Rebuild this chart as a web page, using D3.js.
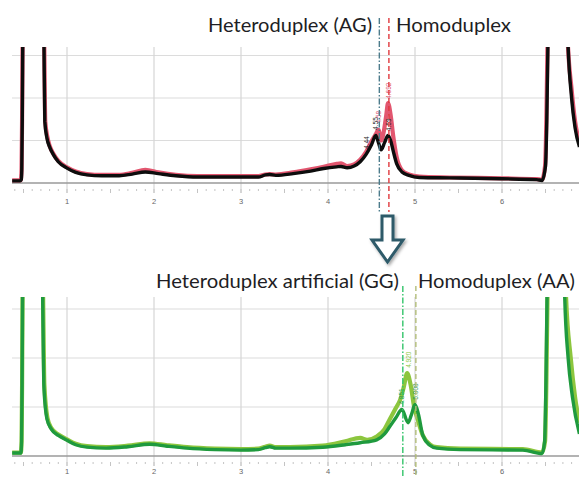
<!DOCTYPE html>
<html>
<head>
<meta charset="utf-8">
<script src="https://cdn.jsdelivr.net/npm/d3@7"></script>
<style>
  html, body { margin: 0; padding: 0; background: #fff; }
  svg { display: block; }
</style>
</head>
<body>
<svg id="chart" width="579" height="477"></svg>
<script>
// Retention-time traces (minutes vs. signal, one grid step = 1 unit)
const topRed = [[0.37,0.06],[0.46,0.06],[0.47,0.07],[0.478,0.35],[0.484,1.6],[0.49,3.5],[0.61,25],[0.738,3.4],[0.75,1.45],[0.775,1.08],[0.80,0.88],[0.84,0.7],[0.9,0.52],[1.0,0.37],[1.1,0.27],[1.23,0.21],[1.4,0.19],[1.6,0.19],[1.75,0.24],[1.9,0.31],[2.05,0.25],[2.25,0.19],[2.5,0.16],[2.9,0.16],[3.2,0.16],[3.28,0.2],[3.33,0.21],[3.4,0.2],[3.6,0.25],[3.8,0.32],[3.95,0.38],[4.1,0.45],[4.15,0.46],[4.22,0.4],[4.3,0.44],[4.37,0.55],[4.44,0.74],[4.5,0.98],[4.55,1.15],[4.58,1.25],[4.61,1.0],[4.64,1.2],[4.67,1.6],[4.69,1.88],[4.72,1.6],[4.75,1.1],[4.79,0.6],[4.85,0.3],[4.93,0.2],[5.05,0.15],[5.4,0.13],[6.0,0.11],[6.4,0.09],[6.46,0.08],[6.495,0.4],[6.51,1.5],[6.525,3.6],[6.64,25],[6.75,3.6],[6.80,2.2],[6.84,1.45],[6.89,0.95]];
const topBlack = [[0.37,0.05],[0.46,0.05],[0.475,0.08],[0.48,0.3],[0.486,1.5],[0.492,3.5],[0.61,25],[0.735,3.4],[0.745,1.45],[0.77,1.05],[0.80,0.85],[0.84,0.68],[0.9,0.5],[1.0,0.35],[1.1,0.25],[1.23,0.19],[1.4,0.17],[1.6,0.17],[1.75,0.21],[1.9,0.26],[2.05,0.22],[2.25,0.17],[2.5,0.14],[2.9,0.14],[3.2,0.14],[3.28,0.19],[3.33,0.2],[3.4,0.18],[3.6,0.22],[3.8,0.28],[3.95,0.34],[4.1,0.38],[4.15,0.39],[4.22,0.36],[4.3,0.4],[4.37,0.5],[4.44,0.68],[4.5,0.9],[4.55,1.12],[4.58,0.95],[4.61,0.78],[4.65,0.95],[4.69,1.12],[4.72,1.0],[4.75,0.75],[4.79,0.45],[4.85,0.26],[4.93,0.18],[5.05,0.13],[5.4,0.12],[6.0,0.1],[6.4,0.08],[6.46,0.06],[6.5,0.4],[6.515,1.5],[6.53,3.6],[6.64,25],[6.755,3.5],[6.80,2.0],[6.84,1.3],[6.89,0.85]];
const bottomLight = [[0.37,0.07],[0.47,0.07],[0.478,0.3],[0.484,1.5],[0.49,3.5],[0.6,25],[0.725,3.3],[0.74,1.45],[0.775,0.78],[0.82,0.57],[0.9,0.44],[1.0,0.34],[1.1,0.25],[1.23,0.2],[1.45,0.18],[1.7,0.21],[1.95,0.26],[2.15,0.22],[2.38,0.18],[2.7,0.15],[3.0,0.14],[3.2,0.15],[3.28,0.19],[3.33,0.21],[3.4,0.18],[3.56,0.18],[3.94,0.21],[4.2,0.3],[4.37,0.37],[4.45,0.33],[4.56,0.4],[4.65,0.55],[4.71,0.75],[4.78,0.98],[4.83,1.15],[4.87,1.4],[4.91,1.69],[4.95,1.45],[4.99,1.0],[5.03,0.75],[5.09,0.42],[5.17,0.24],[5.25,0.18],[5.52,0.15],[6.24,0.14],[6.46,0.07],[6.495,0.3],[6.51,1.5],[6.525,3.6],[6.63,25],[6.735,3.3],[6.79,2.0],[6.84,1.2],[6.89,0.68]];
const bottomDark = [[0.37,0.06],[0.47,0.06],[0.478,0.3],[0.484,1.5],[0.49,3.5],[0.6,25],[0.72,3.3],[0.735,1.4],[0.77,0.75],[0.82,0.55],[0.9,0.42],[1.0,0.32],[1.1,0.23],[1.23,0.18],[1.45,0.16],[1.7,0.19],[1.95,0.24],[2.15,0.2],[2.38,0.16],[2.7,0.13],[3.0,0.12],[3.2,0.13],[3.28,0.17],[3.33,0.19],[3.4,0.16],[3.56,0.16],[3.94,0.18],[4.2,0.23],[4.37,0.27],[4.56,0.33],[4.65,0.45],[4.71,0.6],[4.78,0.78],[4.85,0.95],[4.92,0.68],[4.96,0.85],[5.0,1.05],[5.04,0.85],[5.09,0.42],[5.17,0.22],[5.25,0.16],[5.52,0.13],[6.24,0.12],[6.46,0.05],[6.49,0.3],[6.505,1.5],[6.52,3.6],[6.62,25],[6.72,3.3],[6.76,2.0],[6.81,1.2],[6.89,0.45]];

// Peak apex labels: [retention time, label anchor height, text]
const topBlackPeaks = [[4.44, 0.8, "4.44"], [4.55, 1.25, "4.55"], [4.69, 1.22, "4.69"]];
const topRedPeaks = [[4.58, 1.4, "4.58"], [4.69, 1.98, "4.692"]];
const bottomDarkPeaks = [[4.85, 1.05, "4.851"], [5.008, 1.15, "5.008"]];
const bottomLightPeaks = [[4.92, 1.8, "4.920"]];

// Marker positions
const topMarkers = [4.59, 4.70];
const bottomMarkers = [4.86, 5.01];

const xTicks = [1, 2, 3, 4, 5, 6];
const yGrid = [1, 2, 3];

const titlesTop = ["Heteroduplex (AG)", "Homoduplex"];
const titlesBottom = ["Heteroduplex artificial (GG)", "Homoduplex (AA)"];

const svg = d3.select("#chart");

const defs = svg.append("defs");
const shadow = defs.append("filter").attr("id", "shadow").attr("x", "-30%").attr("y", "-30%").attr("width", "160%").attr("height", "160%");
shadow.append("feDropShadow").attr("dx", 1.5).attr("dy", 2).attr("stdDeviation", 1.5).attr("flood-color", "#000").attr("flood-opacity", 0.35);

const x = d3.scaleLinear().domain([1, 6]).range([67, 502]);

function panel(cfg) {
  const y = d3.scaleLinear().domain([0, 3]).range([cfg.base, cfg.base - 3 * cfg.step]);
  const g = svg.append("g");
  const left = 12, right = 579;

  defs.append("clipPath").attr("id", cfg.id)
    .append("rect").attr("x", left).attr("y", cfg.top).attr("width", right - left).attr("height", cfg.base + 10 - cfg.top);

  // horizontal grid
  g.selectAll(".hg").data(yGrid).join("line")
    .attr("x1", left).attr("x2", right)
    .attr("y1", d => y(d)).attr("y2", d => y(d))
    .attr("stroke", "#dcdcdc").attr("stroke-width", 1.2);

  // vertical grid
  g.selectAll(".vg").data(xTicks).join("line")
    .attr("x1", d => x(d)).attr("x2", d => x(d))
    .attr("y1", cfg.top).attr("y2", cfg.base + 10)
    .attr("stroke", "#d6d6d6").attr("stroke-width", 1.2);

  // baseline
  g.append("line").attr("x1", left).attr("x2", right)
    .attr("y1", y(0)).attr("y2", y(0))
    .attr("stroke", "#9a9a9a").attr("stroke-width", 1.4);

  // minor ticks along the lower axis
  const minor = d3.range(4, 69).map(i => i / 10);
  g.selectAll(".mt").data(minor).join("line")
    .attr("x1", d => x(d)).attr("x2", d => x(d))
    .attr("y1", y(0) + 6)
    .attr("y2", d => y(0) + (Math.abs(d * 2 - Math.round(d * 2)) < 1e-6 ? 10 : 8))
    .attr("stroke", "#c4c4c4").attr("stroke-width", 1);

  g.selectAll(".tl").data(xTicks).join("text")
    .attr("x", d => x(d)).attr("y", y(0) + cfg.labelOffset)
    .attr("text-anchor", "middle")
    .attr("font-family", "Liberation Sans, Arial, sans-serif")
    .attr("font-size", 7.5).attr("fill", "#666")
    .text(d => d);

  const line = d3.line().x(d => x(d[0])).y(d => y(d[1])).curve(d3.curveMonotoneX);
  const traces = g.append("g").attr("clip-path", `url(#${cfg.id})`);
  cfg.series.forEach(s => {
    traces.append("path").datum(s.data)
      .attr("d", line)
      .attr("fill", "none")
      .attr("stroke", s.color)
      .attr("stroke-width", s.width)
      .attr("stroke-linejoin", "round");
  });

  // peak labels (rotated)
  cfg.peaks.forEach(p => {
    p.data.forEach(d => {
      g.append("text")
        .attr("transform", `translate(${x(d[0]) + 2.5},${y(d[1])}) rotate(-90)`)
        .attr("font-family", "Liberation Sans, Arial, sans-serif")
        .attr("font-size", 6.5).attr("fill", p.color)
        .text(d[2]);
    });
  });

  // marker lines
  cfg.markers.forEach((m, i) => {
    g.append("line")
      .attr("x1", x(m)).attr("x2", x(m))
      .attr("y1", cfg.markerTop).attr("y2", cfg.markerBottom)
      .attr("stroke", cfg.markerColors[i])
      .attr("stroke-width", 1.4)
      .attr("stroke-dasharray", cfg.markerDash[i]);
  });

  // titles
  cfg.titles.forEach(t => {
    g.append("text")
      .attr("x", t.x).attr("y", t.y)
      .attr("font-family", "Lato, 'Open Sans', sans-serif")
      .attr("font-size", 20)
      .attr("fill", "#1e1e24")
      .attr("textLength", t.w)
      .attr("lengthAdjust", "spacingAndGlyphs")
      .text(t.text);
  });
}

panel({
  id: "clipTop", base: 183, step: 42.5, top: 47, labelOffset: 21,
  series: [
    { data: topRed, color: "#e2566f", width: 4.2 },
    { data: topBlack, color: "#0d0d0d", width: 3.4 }
  ],
  peaks: [
    { data: topRedPeaks, color: "#e2566f" },
    { data: topBlackPeaks, color: "#222" }
  ],
  markers: topMarkers,
  markerColors: ["#4d7c8c", "#e0393e"],
  markerDash: ["6,2,1.5,2", "5,3"],
  markerTop: 18, markerBottom: 212,
  titles: [
    { text: titlesTop[0], x: 208, y: 32, w: 164 },
    { text: titlesTop[1], x: 396, y: 32, w: 115 }
  ]
});

panel({
  id: "clipBottom", base: 456, step: 49, top: 297, labelOffset: 18,
  series: [
    { data: bottomLight, color: "#8cc63e", width: 4.2 },
    { data: bottomDark, color: "#1f9a3e", width: 3.4 }
  ],
  peaks: [
    { data: bottomLightPeaks, color: "#8cc63e" },
    { data: bottomDarkPeaks, color: "#2a9a55" }
  ],
  markers: bottomMarkers,
  markerColors: ["#33c46a", "#b2bd78"],
  markerDash: ["6,2,1.5,2", "5,3"],
  markerTop: 286, markerBottom: 477,
  titles: [
    { text: titlesBottom[0], x: 156, y: 288, w: 243 },
    { text: titlesBottom[1], x: 418, y: 288, w: 157 }
  ]
});

// down arrow between the two panels
const arrow = d3.path();
arrow.moveTo(382, 216);
arrow.lineTo(393, 216);
arrow.lineTo(393, 240);
arrow.lineTo(403, 240);
arrow.lineTo(387.5, 262);
arrow.lineTo(372, 240);
arrow.lineTo(382, 240);
arrow.closePath();
svg.append("path")
  .attr("d", arrow.toString())
  .attr("fill", "#fff")
  .attr("stroke", "#2d5a69")
  .attr("stroke-width", 3)
  .attr("stroke-linejoin", "miter")
  .attr("filter", "url(#shadow)");
</script>
</body>
</html>
